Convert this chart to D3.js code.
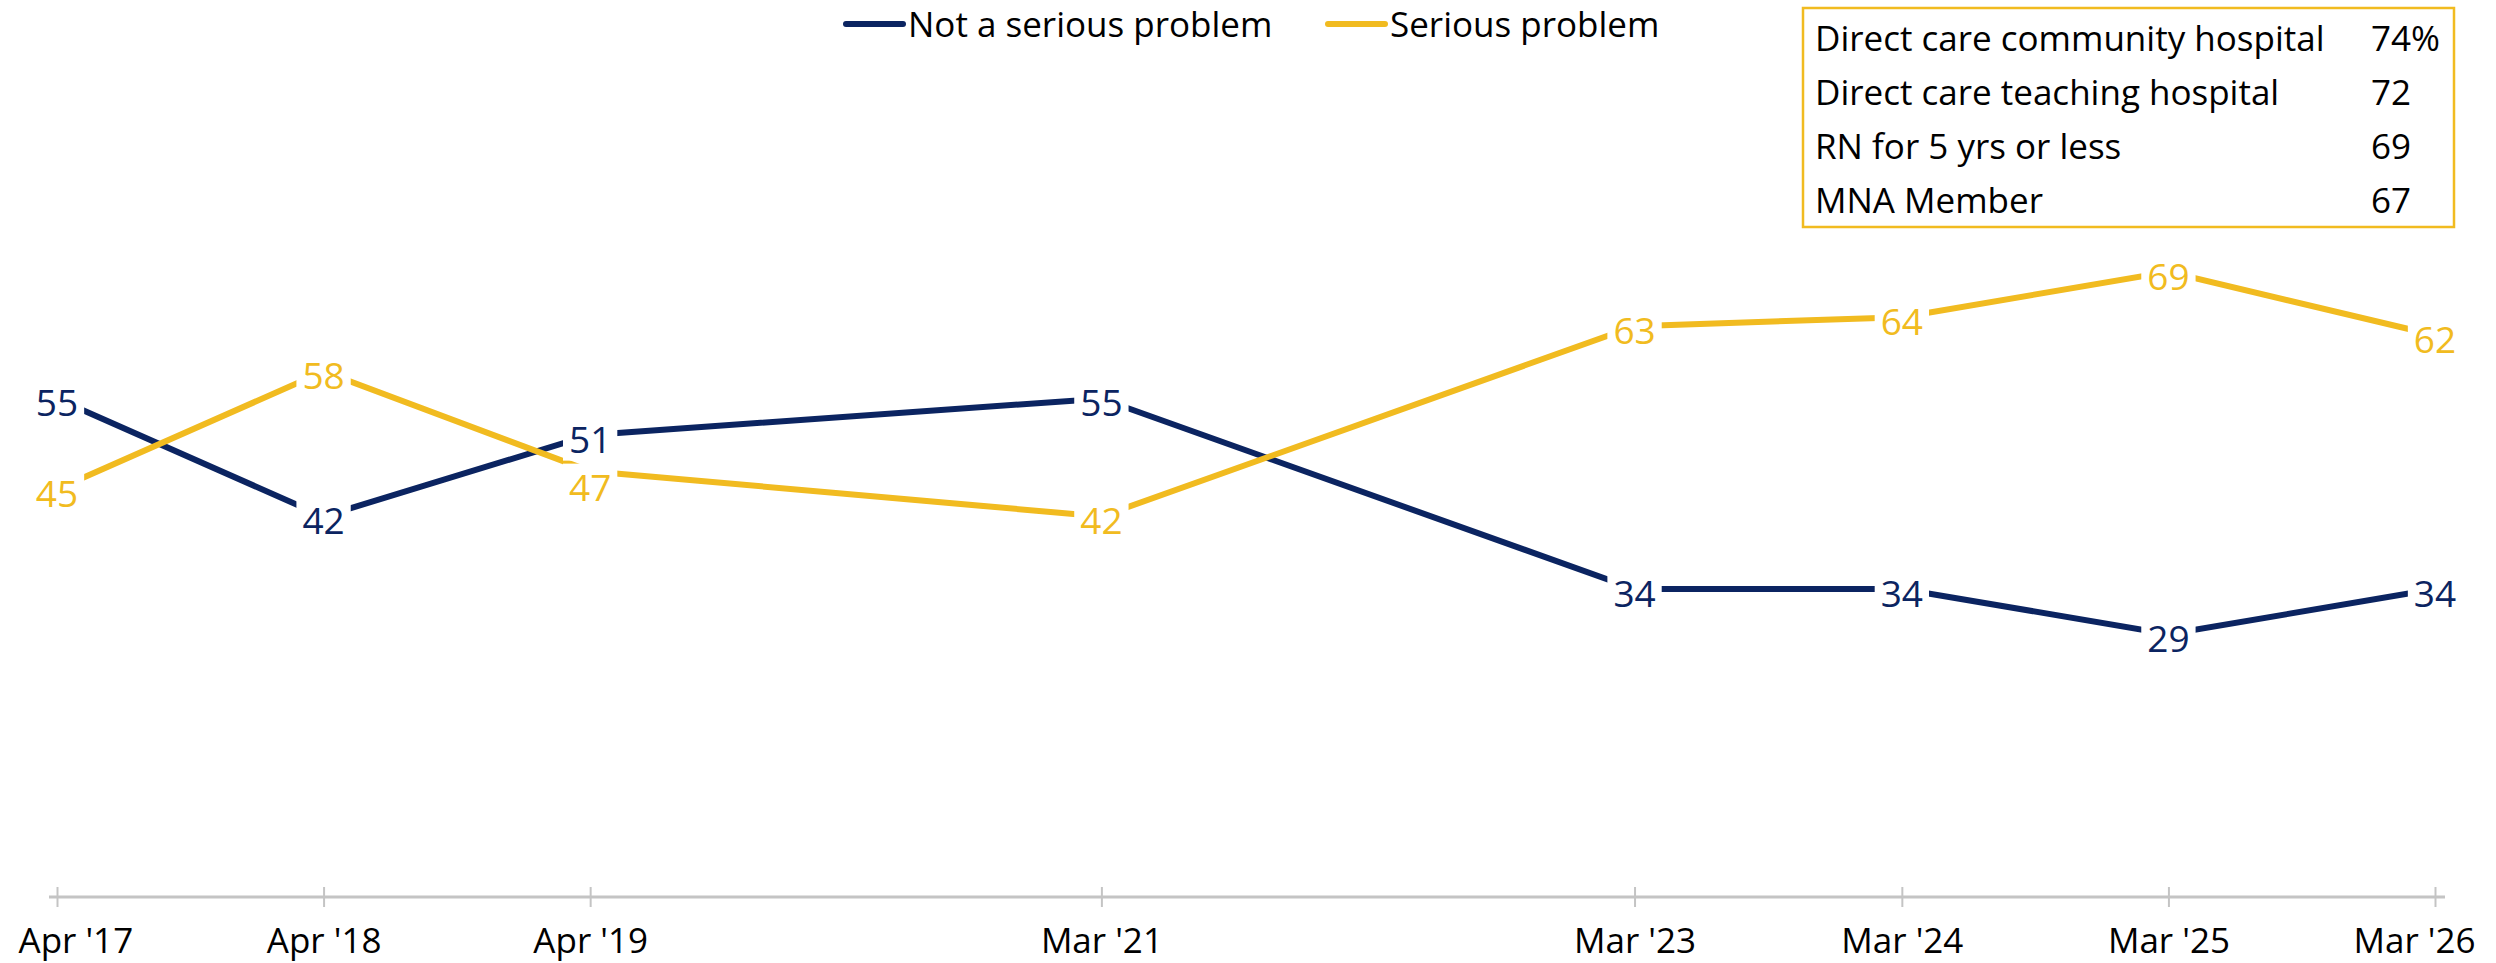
<!DOCTYPE html>
<html>
<head>
<meta charset="utf-8">
<script src="https://cdn.jsdelivr.net/npm/d3@7"></script>
<style>
  body { margin: 0; background: #fff; }
  text { font-family: "Open Sans", "Noto Sans", sans-serif; }
</style>
</head>
<body>
<div class="chart"></div>
<script>
// chart data
var surveyDates = ["2017-04", "2018-04", "2019-04", "2021-03", "2023-03", "2024-03", "2025-03", "2026-03"];
var tickLabels = ["Apr '17", "Apr '18", "Apr '19", "Mar '21", "Mar '23", "Mar '24", "Mar '25", "Mar '26"];
var notSerious = [55, 42, 51, 55, 34, 34, 29, 34];
var serious = [45, 58, 47, 42, 63, 64, 69, 62];
var seriesNames = ["Not a serious problem", "Serious problem"];

var boxLabels = ["Direct care community hospital", "Direct care teaching hospital", "RN for 5 yrs or less", "MNA Member"];
var boxValues = ["74%", "72", "69", "67"];

var width = 2496,
    height = 963;

var navy = "#0b2461",
    gold = "#f1bb20";

var parseMonth = d3.timeParse("%Y-%m");
var dates = surveyDates.map(parseMonth);

var svg = d3.select(".chart")
            .append("svg")
            .attr("width", width)
            .attr("height", height);

var x = d3.scaleTime()
          .domain([dates[0], dates[dates.length - 1]])
          .range([57, 2435]);

var y = d3.scaleLinear()
          .domain([0, 100])
          .range([897, -9]);

var axisY = 897;

// x axis
var xAxis = d3.axisBottom(x)
              .tickValues(dates)
              .tickSizeInner(9)
              .tickSizeOuter(0)
              .tickFormat(function(d, i) { return tickLabels[i]; });

var gAxis = svg.append("g")
               .attr("transform", "translate(0," + axisY + ")")
               .call(xAxis);

gAxis.select(".domain").remove();
gAxis.insert("line", ":first-child")
     .attr("x1", 49).attr("x2", 2445)
     .attr("y1", 0).attr("y2", 0)
     .attr("stroke", "#c4c4c4")
     .attr("stroke-width", 3);
gAxis.selectAll(".tick line")
     .attr("y1", -10).attr("y2", 10)
     .attr("stroke", "#c4c4c4")
     .attr("stroke-width", 2);
gAxis.selectAll(".tick text")
     .attr("y", 56)
     .attr("dy", 0)
     .attr("fill", "#000")
     .style("font-size", "35px")
     .style("font-family", "'Open Sans', sans-serif");

// keep edge labels inside the page
gAxis.selectAll(".tick text").each(function(d) {
  var w = this.getComputedTextLength();
  var cx = x(d);
  var shift = 0;
  if (cx - w / 2 < 18) shift = 18 - (cx - w / 2);
  if (cx + w / 2 > width - 21) shift = (width - 21) - (cx + w / 2);
  d3.select(this).attr("x", shift);
});

// lines
var series = [
  { name: seriesNames[0], values: notSerious, color: navy },
  { name: seriesNames[1], values: serious, color: gold }
];

var line = d3.line()
             .x(function(d, i) { return x(dates[i]); })
             .y(function(d) { return y(d); });

svg.selectAll(".series")
   .data(series)
   .enter()
   .append("path")
   .attr("class", "series")
   .attr("d", function(s) { return line(s.values); })
   .attr("fill", "none")
   .attr("stroke", function(s) { return s.color; })
   .attr("stroke-width", 6);

// data labels, nudging apart where they crowd each other
var labels = [];
dates.forEach(function(dt, i) {
  var a = { x: x(dt), y: y(notSerious[i]), v: notSerious[i], color: navy };
  var b = { x: x(dt), y: y(serious[i]), v: serious[i], color: gold };
  var top = a.y < b.y ? a : b, bottom = a.y < b.y ? b : a;
  if (bottom.y - top.y < 48) bottom.y = top.y + 48;
  labels.push(a, b);
});

var gLabels = svg.selectAll(".dlabel")
                 .data(labels)
                 .enter()
                 .append("g")
                 .attr("class", "dlabel")
                 .attr("transform", function(d) { return "translate(" + d.x + "," + (d.y + 4) + ")"; });

gLabels.append("rect")
       .attr("fill", "#fff");

gLabels.append("text")
       .attr("text-anchor", "middle")
       .attr("dy", "0.37em")
       .attr("fill", function(d) { return d.color; })
       .style("font-size", "37px")
       .text(function(d) { return d.v; });

gLabels.each(function() {
  var g = d3.select(this);
  var bb = g.select("text").node().getBBox();
  g.select("rect")
   .attr("x", bb.x - 6)
   .attr("y", bb.y + 3)
   .attr("width", bb.width + 12)
   .attr("height", bb.height - 6);
});

// legend
var legendX = [846, 1328];
var gLegend = svg.selectAll(".legend")
                 .data(series)
                 .enter()
                 .append("g")
                 .attr("class", "legend")
                 .attr("transform", function(d, i) { return "translate(" + legendX[i] + ",24)"; });

gLegend.append("line")
       .attr("x1", 0).attr("x2", 57)
       .attr("y1", 0).attr("y2", 0)
       .attr("stroke", function(d) { return d.color; })
       .attr("stroke-width", 6)
       .attr("stroke-linecap", "round");

gLegend.append("text")
       .attr("x", 62)
       .attr("y", 13)
       .attr("fill", "#000")
       .style("font-size", "35px")
       .text(function(d) { return d.name; });

// callout box
var box = { x: 1803, y: 8, w: 651, h: 219 };
svg.append("rect")
   .attr("x", box.x).attr("y", box.y)
   .attr("width", box.w).attr("height", box.h)
   .attr("fill", "#fff")
   .attr("stroke", gold)
   .attr("stroke-width", 2.5);

var rowY = d3.scalePoint().domain(d3.range(boxLabels.length)).range([51, 213]);

svg.selectAll(".boxlabel")
   .data(boxLabels)
   .enter()
   .append("text")
   .attr("class", "boxlabel")
   .attr("x", 1815)
   .attr("y", function(d, i) { return rowY(i); })
   .attr("fill", "#000")
   .style("font-size", "35px")
   .text(function(d) { return d; });

svg.selectAll(".boxvalue")
   .data(boxValues)
   .enter()
   .append("text")
   .attr("class", "boxvalue")
   .attr("x", 2371)
   .attr("y", function(d, i) { return rowY(i); })
   .attr("fill", "#000")
   .style("font-size", "35px")
   .text(function(d) { return d; });
</script>
</body>
</html>
